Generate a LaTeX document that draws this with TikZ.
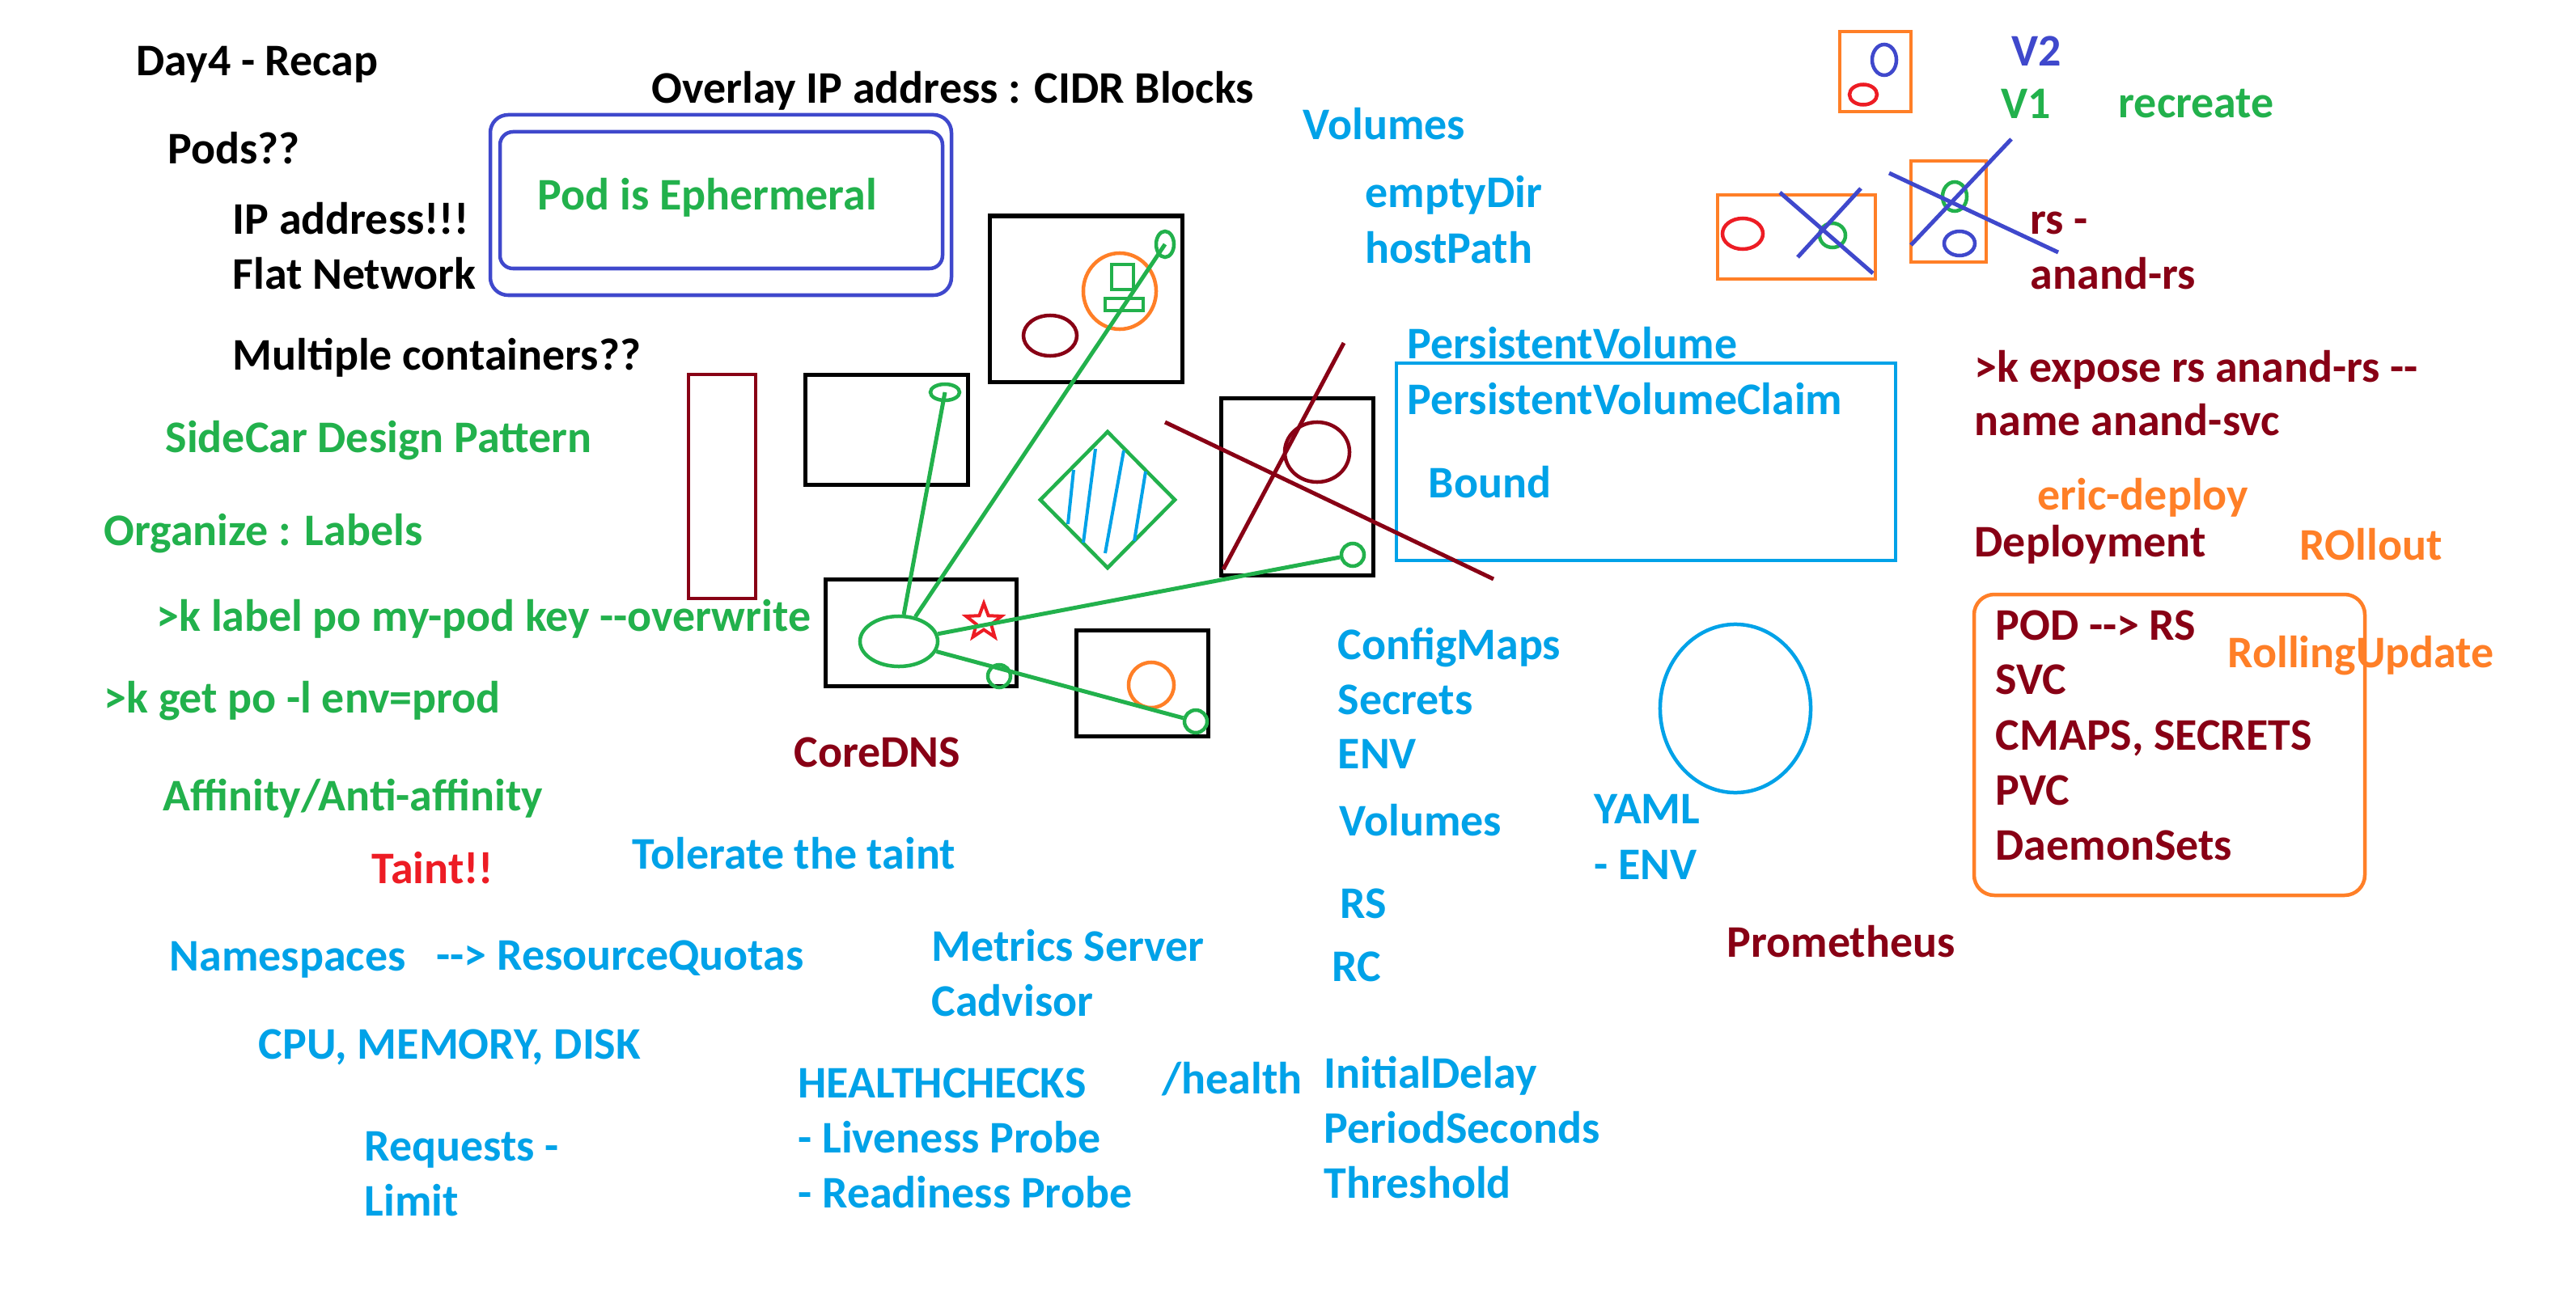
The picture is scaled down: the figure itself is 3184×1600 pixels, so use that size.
\documentclass[tikz,border=0pt]{standalone}
\usepackage{fontspec}
\setmainfont{Carlito}
\usetikzlibrary{shapes.geometric}

\definecolor{pblue}{RGB}{0,162,232}
\definecolor{pgreen}{RGB}{34,177,76}
\definecolor{pdred}{RGB}{136,0,21}
\definecolor{pred}{RGB}{237,28,36}
\definecolor{porange}{RGB}{255,127,39}
\definecolor{pindigo}{RGB}{63,72,204}

\begin{document}
\begin{tikzpicture}[
    x=0.01cm, y=-0.01cm,
    note/.style={
        anchor=base west,
        inner sep=0pt,
        font=\fontsize{15.9}{19}\selectfont\bfseries,
        },
    podbox/.style={
        draw=black,
        line width=0.05cm,
        },
    blob/.style={
        ellipse,
        draw,
        line width=0.045cm,
        inner sep=0pt,
        },
    wire/.style={
        pgreen,
        line width=0.05cm,
        },
    strike/.style={
        line width=0.05cm,
        },
    ]

    \useasboundingbox [fill=white] (0,0) rectangle (3184,1600);

    % left column
    \node [note] (day) at (168,94) {Day4 - Recap};
    \node [note] (overlay) at (805,128) {Overlay IP address : CIDR Blocks};
    \node [note] (pods) at (207,203) {Pods??};
    \node [note] (ipaddr) at (287,289) {IP address!!!};
    \node [note] (flat) at (287,357) {Flat Network};
    \node [note] (multi) at (287,457) {Multiple containers??};
    \node [note, pgreen] (sidecar) at (204,559) {SideCar Design Pattern};
    \node [note, pgreen] (organize) at (128,674) {Organize : Labels};
    \node [note, pgreen] (klabel) at (193,780) {>k label po my-pod key -{}-overwrite};
    \node [note, pgreen] (kget) at (128,881) {>k get po -l env=prod};
    \node [note, pgreen] (affinity) at (201,1002) {Affinity/Anti-affinity};
    \node [note, pred] (taint) at (459,1092) {Taint!!};
    \node [note, pblue] (tolerate) at (781,1074) {Tolerate the taint};
    \node [note, pdred] (coredns) at (981,948) {CoreDNS};
    \node [note, pblue] (ns) at (209,1200) {Namespaces};
    \node [note, pblue] (quota) at (539,1199) {-{}-> ResourceQuotas};
    \node [note, pblue] (cpu) at (319,1309) {CPU, MEMORY, DISK};
    \node [note, pblue] (requests) at (450,1435) {Requests -};
    \node [note, pblue] (limit) at (450,1503) {Limit};

    \draw [pindigo, line width=0.045cm, rounded corners=0.22cm] (606,142) rectangle (1176,365);
    \draw [pindigo, line width=0.045cm, rounded corners=0.16cm] (618,163) rectangle (1165,332);
    \node [note, pgreen] (ephemeral) at (664,260) {Pod is Ephermeral};

    % middle column
    \node [note, pblue] (metrics) at (1151,1188) {Metrics Server};
    \node [note, pblue] (cadvisor) at (1151,1256) {Cadvisor};
    \node [note, pblue] (health) at (986,1357) {HEALTHCHECKS};
    \node [note, pblue] (liveness) at (986,1425) {- Liveness Probe};
    \node [note, pblue] (readiness) at (986,1493) {- Readiness Probe};
    \node [note, pblue] (hpath) at (1436,1352) {/health};
    \node [note, pblue] (initial) at (1636,1345) {InitialDelay};
    \node [note, pblue] (period) at (1636,1413) {PeriodSeconds};
    \node [note, pblue] (threshold) at (1636,1481) {Threshold};
    \node [note, pblue] (volumes) at (1610,173) {Volumes};
    \node [note, pblue] (emptydir) at (1687,257) {emptyDir};
    \node [note, pblue] (hostpath) at (1687,325) {hostPath};
    \node [note, pblue] (pv) at (1739,443) {PersistentVolume};
    \node [note, pblue] (pvc) at (1739,512) {PersistentVolumeClaim};
    \node [note, pblue] (bound) at (1765,615) {Bound};
    \node [note, pblue] (cmaps) at (1653,815) {ConfigMaps};
    \node [note, pblue] (secrets) at (1653,883) {Secrets};
    \node [note, pblue] (env) at (1653,950) {ENV};
    \node [note, pblue] (volumes2) at (1655,1033) {Volumes};
    \node [note, pblue] (rs) at (1656,1135) {RS};
    \node [note, pblue] (rc) at (1646,1213) {RC};
    \node [note, pblue] (yaml) at (1970,1018) {YAML};
    \node [note, pblue] (yamlenv) at (1970,1087) {- ENV};
    \node [note, pdred] (prom) at (2134,1183) {Prometheus};

    \draw [pblue, line width=0.045cm] (1726,449) rectangle (2343,693);
    \node [blob, pblue, minimum width=1.86cm, minimum height=2.08cm] (yamlell) at (2145,876) {};

    % right column
    \node [note, pindigo] (v2) at (2486,82) {V2};
    \node [note, pgreen] (v1) at (2473,147) {V1};
    \node [note, pgreen] (recreate) at (2618,146) {recreate};
    \node [note, pdred] (rsdash) at (2509,290) {rs -};
    \node [note, pdred] (anandrs) at (2509,357) {anand-rs};
    \node [note, pdred] (expose) at (2440,472) {>k expose rs anand-rs -{}-};
    \node [note, pdred] (svcname) at (2440,538) {name anand-svc};
    \node [note, porange] (eric) at (2518,630) {eric-deploy};
    \node [note, pdred] (deploy) at (2440,688) {Deployment};
    \node [note, porange] (rollout) at (2842,692) {ROllout};

    \draw [porange, line width=0.045cm, rounded corners=0.25cm] (2440,735) rectangle (2923,1107);
    \node [note, pdred] (podrs) at (2466,791) {POD -{}-> RS};
    \node [note, pdred] (svc) at (2466,858) {SVC};
    \node [note, pdred] (cmapsec) at (2466,927) {CMAPS, SECRETS};
    \node [note, pdred] (pvc2) at (2466,995) {PVC};
    \node [note, pdred] (daemon) at (2466,1063) {DaemonSets};
    \node [note, porange] (rolling) at (2753,825) {RollingUpdate};

    \draw [porange, line width=0.045cm] (2274,39) rectangle (2362,138);
    \node [blob, pindigo, minimum width=0.30cm, minimum height=0.38cm] (v2blue) at (2329,74) {};
    \node [blob, pred, minimum width=0.34cm, minimum height=0.25cm] (v2red) at (2303,117) {};

    \draw [porange, line width=0.045cm] (2123,241) rectangle (2318,345);
    \node [blob, pred, minimum width=0.50cm, minimum height=0.38cm] (oldred) at (2154,289) {};
    \node [blob, pgreen, minimum width=0.32cm, minimum height=0.30cm] (oldgrn) at (2265,291) {};
    \draw [strike, pindigo] (2200,238) -- (2315,338);
    \draw [strike, pindigo] (2300,233) -- (2222,318);

    \draw [porange, line width=0.045cm] (2362,199) rectangle (2455,324);
    \node [blob, pgreen, minimum width=0.30cm, minimum height=0.36cm] (v1grn) at (2416,243) {};
    \node [blob, pindigo, minimum width=0.38cm, minimum height=0.30cm] (v1blue) at (2422,301) {};
    \draw [strike, pindigo] (2486,172) -- (2362,303);
    \draw [strike, pindigo] (2335,214) -- (2544,312);

    % pods
    \draw [podbox] (1223,267) rectangle (1461,472);
    \node [blob, porange, minimum width=0.90cm, minimum height=0.94cm] (pod1c) at (1384,360) {};
    \draw [pgreen, line width=0.045cm] (1374,327) rectangle (1401,358);
    \draw [pgreen, line width=0.045cm] (1366,369) rectangle (1413,384);
    \node [blob, pdred, minimum width=0.66cm, minimum height=0.50cm] (pod1e) at (1298,415) {};
    \node [blob, pgreen, minimum width=0.22cm, minimum height=0.32cm] (pod1tip) at (1440,302) {};

    \draw [podbox] (995,463) rectangle (1196,599);
    \node [blob, pgreen, minimum width=0.36cm, minimum height=0.20cm] (pod2tip) at (1168,485) {};

    \draw [pdred, line width=0.045cm] (851,463) rectangle (934,740);

    \node [diamond, draw=pgreen, line width=0.045cm, inner sep=0pt,
        minimum width=1.68cm, minimum height=1.70cm] (svcdiam) at (1369,618) {};
    \draw [pblue, line width=0.04cm] (1327,581) -- (1320,648);
    \draw [pblue, line width=0.04cm] (1354,555) -- (1339,671);
    \draw [pblue, line width=0.04cm] (1389,557) -- (1366,684);
    \draw [pblue, line width=0.04cm] (1416,583) -- (1402,669);

    \draw [podbox] (1509,492) rectangle (1697,711);
    \node [blob, pdred, minimum width=0.80cm, minimum height=0.74cm] (pod3e) at (1628,559) {};
    \node [blob, pgreen, minimum width=0.28cm, minimum height=0.28cm] (pod3tip) at (1672,686) {};

    \draw [podbox] (1020,716) rectangle (1256,848);
    \node [blob, pgreen, minimum width=0.96cm, minimum height=0.62cm] (dns) at (1111,793) {};
    \node [star, star points=5, star point ratio=2.4, draw=pred, line width=0.04cm,
        inner sep=0pt, minimum size=0.46cm] (dnsstar) at (1216,769) {};
    \node [blob, pgreen, minimum width=0.28cm, minimum height=0.28cm] (dnstip) at (1235,836) {};

    \draw [podbox] (1330,779) rectangle (1493,910);
    \node [blob, porange, minimum width=0.56cm, minimum height=0.56cm] (pod5c) at (1423,847) {};
    \node [blob, pgreen, minimum width=0.28cm, minimum height=0.28cm] (pod5tip) at (1478,892) {};

    \draw [wire] (dns) -- (pod2tip.center);
    \draw [wire] (dns) -- (pod1tip.center);
    \draw [wire] (dns) -- (pod3tip);
    \draw [wire] (dns) -- (pod5tip);

    \draw [strike, pdred] (1661,424) -- (1512,704);
    \draw [strike, pdred] (1440,522) -- (1846,716);

\end{tikzpicture}
\end{document}
